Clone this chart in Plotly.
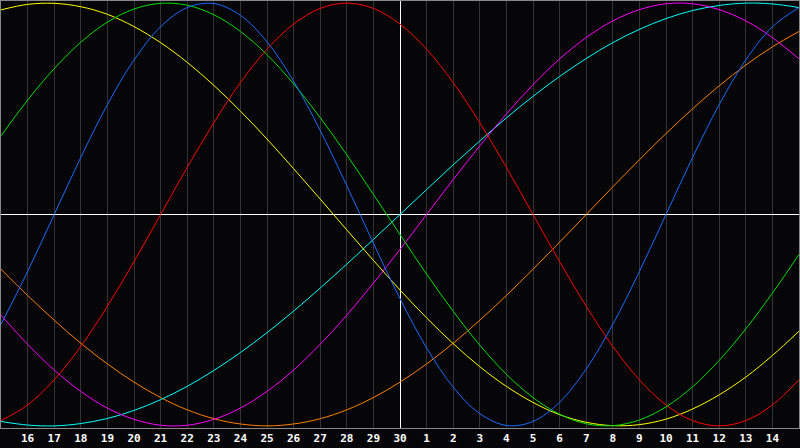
import plotly.graph_objects as go

# days relative to the marked day (day 30 in the middle of the chart)
days = list(range(-15, 16))
day_labels = ["16", "17", "18", "19", "20", "21", "22", "23", "24", "25", "26", "27", "28", "29",
              "30", "1", "2", "3", "4", "5", "6", "7", "8", "9", "10", "11", "12", "13", "14"]
label_days = list(range(-14, 15))

# cycle values, one per day
physical = [-0.520, -0.270, 0.0, 0.270, 0.520, 0.731, 0.888, 0.979, 0.998, 0.942, 0.817,
            0.631, 0.398, 0.136, -0.136, -0.398, -0.631, -0.817, -0.942, -0.998, -0.979,
            -0.888, -0.731, -0.520, -0.270, 0.0, 0.270, 0.520, 0.731, 0.888, 0.979]
emotional = [-0.975, -0.901, -0.782, -0.624, -0.434, -0.223, 0.0, 0.223, 0.434, 0.624, 0.782,
             0.901, 0.975, 1.0, 0.975, 0.901, 0.782, 0.624, 0.434, 0.223, 0.0,
             -0.223, -0.434, -0.624, -0.782, -0.901, -0.975, -1.0, -0.975, -0.901, -0.782]
intellectual = [0.372, 0.541, 0.690, 0.815, 0.910, 0.972, 0.999, 0.990, 0.945, 0.866, 0.756,
                0.618, 0.458, 0.282, 0.095, -0.095, -0.282, -0.458, -0.618, -0.756, -0.866,
                -0.945, -0.990, -0.999, -0.972, -0.910, -0.815, -0.690, -0.541, -0.372, -0.189]
intuitive = [-0.476, -0.614, -0.736, -0.837, -0.916, -0.969, -0.997, -0.997, -0.969, -0.916, -0.837,
             -0.736, -0.614, -0.476, -0.325, -0.165, 0.0, 0.165, 0.325, 0.476, 0.614,
             0.736, 0.837, 0.916, 0.969, 0.997, 0.997, 0.969, 0.916, 0.837, 0.736]
aesthetic = [0.968, 0.994, 0.999, 0.983, 0.947, 0.889, 0.813, 0.720, 0.611, 0.489, 0.357,
             0.217, 0.073, -0.073, -0.217, -0.357, -0.489, -0.611, -0.720, -0.813, -0.889,
             -0.947, -0.983, -0.999, -0.994, -0.968, -0.920, -0.853, -0.769, -0.667, -0.552]
awareness = [-0.259, -0.383, -0.500, -0.609, -0.707, -0.793, -0.866, -0.924, -0.966, -0.991, -1.0,
             -0.991, -0.966, -0.924, -0.866, -0.793, -0.707, -0.609, -0.500, -0.383, -0.259,
             -0.131, 0.0, 0.131, 0.259, 0.383, 0.500, 0.609, 0.707, 0.793, 0.866]
spiritual = [-0.979, -0.996, -1.0, -0.989, -0.965, -0.927, -0.876, -0.813, -0.738, -0.653, -0.559,
             -0.457, -0.348, -0.235, -0.118, 0.0, 0.118, 0.235, 0.348, 0.457, 0.559,
             0.653, 0.738, 0.813, 0.876, 0.927, 0.965, 0.989, 1.0, 0.996, 0.979]

series = [
    ("Awareness", awareness, "#ff8000"),
    ("Spiritual", spiritual, "#00ffff"),
    ("Intuitive", intuitive, "#ff00ff"),
    ("Aesthetic", aesthetic, "#ffff00"),
    ("Emotional", emotional, "#ff0000"),
    ("Intellectual", intellectual, "#00e000"),
    ("Physical", physical, "#1a6cff"),
]

fig = go.Figure()
for name, vals, color in series:
    fig.add_trace(go.Scatter(
        x=days, y=vals, name=name, mode="lines",
        line=dict(color=color, width=1, shape="spline", smoothing=1.0),
        hoverinfo="skip",
    ))

fig.update_layout(
    width=800, height=448,
    margin=dict(l=1, r=1, t=1, b=20),
    paper_bgcolor="#060608",
    plot_bgcolor="#060608",
    showlegend=False,
    xaxis=dict(
        range=[-15, 15],
        tickvals=label_days, ticktext=day_labels,
        tickfont=dict(family="DejaVu Sans Mono", size=11, color="white", weight="bold"),
        ticks="", showgrid=True, gridcolor="#333333", gridwidth=1,
        zeroline=True, zerolinecolor="#ffffff", zerolinewidth=1,
        showline=True, mirror=True, linecolor="#888888", linewidth=1,
        fixedrange=True,
    ),
    yaxis=dict(
        range=[-1.01, 1.01],
        showticklabels=False, ticks="", showgrid=False,
        zeroline=True, zerolinecolor="#ffffff", zerolinewidth=1,
        showline=True, mirror=True, linecolor="#888888", linewidth=1,
        fixedrange=True,
    ),
)

# page body has a default margin; drop it so the chart fills the window
fig.write_html(
    "out.html",
    config={"displayModeBar": False},
    post_script="document.body.style.margin='0';document.body.style.background='#060608';",
)
